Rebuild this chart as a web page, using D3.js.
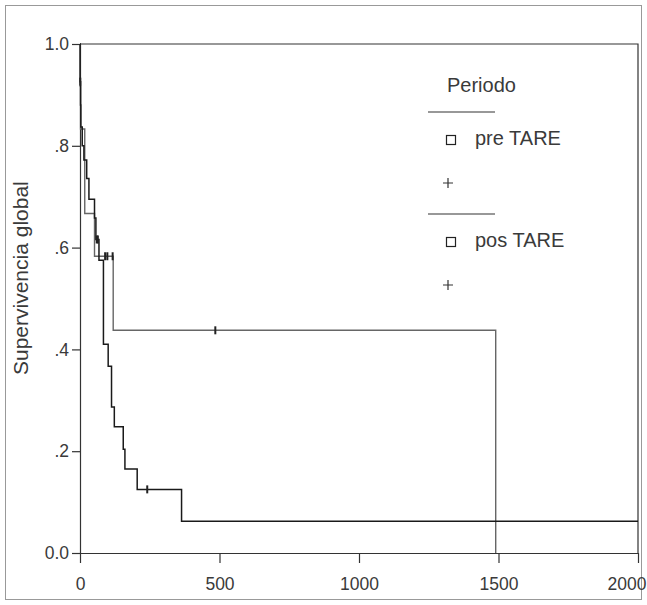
<!DOCTYPE html>
<html><head><meta charset="utf-8">
<script src="https://cdn.jsdelivr.net/npm/d3@7"></script>
<style>
body{margin:0;background:#fff}
svg{display:block}
text{font-family:"Liberation Sans",Arial,sans-serif;fill:#3a3a3a}
</style>
</head><body>
<svg id="c" width="647" height="605"></svg>
<script>
// ---- data ----
const preTimes = [0, 0.5, 2, 3, 8, 14, 24, 32, 52, 57, 68, 84, 101, 113, 123, 155, 161, 205, 364, 2000];
const preSurv  = [1.0, 0.926, 0.880, 0.837, 0.80, 0.772, 0.736, 0.695, 0.658, 0.616, 0.575, 0.41, 0.367, 0.287, 0.248, 0.204, 0.165, 0.125, 0.0625, 0.0625];
const preCensT = [1, 60, 64, 241];
const preCensS = [0.926, 0.616, 0.616, 0.125];
const posTimes = [0, 1, 2, 17, 52, 119, 1490];
const posSurv  = [1.0, 0.917, 0.833, 0.667, 0.583, 0.4375, 0];
const posCensT = [90, 98, 117, 485];
const posCensS = [0.583, 0.583, 0.583, 0.4375];
const xTicks = [0, 500, 1000, 1500, 2000];
const yTicks = [0, 0.2, 0.4, 0.6, 0.8, 1.0];
const yTickLabels = ["0.0", ".2", ".4", ".6", ".8", "1.0"];
const groups = ["pre TARE", "pos TARE"];
const legendTitle = "Periodo";
const yTitle = "Supervivencia global";

// ---- layout ----
const svg = d3.select("#c");
const L = 80, R = 638, T = 44, B = 553;
const x = d3.scaleLinear().domain([0, 2000]).range([L, R]);
const y = d3.scaleLinear().domain([0, 1]).range([B, T]);

// outer border
svg.append("rect").attr("x", 5.5).attr("y", 5.5).attr("width", 636).attr("height", 594)
  .attr("fill", "none").attr("stroke", "#999").attr("stroke-width", 1);

// frame top/right
svg.append("path").attr("d", `M${L},${T}H${R}V${B}`).attr("fill", "none")
  .attr("stroke", "#333").attr("stroke-width", 1.2);

// axes
const yAxis = d3.axisLeft(y).tickValues(yTicks).tickSize(8).tickSizeOuter(0).tickPadding(3)
  .tickFormat((d, i) => yTickLabels[i]);
const gy = svg.append("g").attr("transform", `translate(${L},0)`).call(yAxis);
const xAxis = d3.axisBottom(x).tickValues(xTicks).tickSize(10).tickSizeOuter(0).tickPadding(15)
  .tickFormat(d3.format("d"));
const gx = svg.append("g").attr("transform", `translate(0,${B})`).call(xAxis);
[gx, gy].forEach(g => {
  g.select(".domain").attr("stroke", "#333").attr("stroke-width", 1.2);
  g.selectAll(".tick line").attr("stroke", "#333").attr("stroke-width", 1.2);
  g.selectAll(".tick text").style("font-size", "17.5px").attr("fill", "#3a3a3a");
});
gx.selectAll(".tick text").filter(d => d === 2000).attr("text-anchor", "end").attr("dx", 8);

// y title
svg.append("text").attr("transform", `translate(28,${y(0.54)}) rotate(-90)`)
  .attr("text-anchor", "middle").style("font-size", "21px").text(yTitle);

// curves
const line = d3.line().x(d => x(d[0])).y(d => y(d[1])).curve(d3.curveStepAfter);
const series = [
  {t: preTimes, s: preSurv, ct: preCensT, cs: preCensS, color: "#1a1a1a", w: 1.5},
  {t: posTimes, s: posSurv, ct: posCensT, cs: posCensS, color: "#666", w: 1.4}
];
series.slice().reverse().forEach(se => {
  const pts = se.t.map((t, i) => [t, se.s[i]]);
  svg.append("path").attr("d", line(pts)).attr("fill", "none")
    .attr("stroke", se.color).attr("stroke-width", se.w);
  se.ct.forEach((t, i) => {
    svg.append("line").attr("x1", x(t)).attr("x2", x(t))
      .attr("y1", y(se.cs[i]) - 4).attr("y2", y(se.cs[i]) + 4)
      .attr("stroke", "#222").attr("stroke-width", 2);
  });
});

// legend
const lg = svg.append("g");
lg.append("text").attr("x", 447).attr("y", 92).style("font-size", "20px").text(legendTitle);
groups.forEach((g, i) => {
  const oy = i * 102;
  lg.append("line").attr("x1", 428).attr("x2", 495).attr("y1", 112 + oy).attr("y2", 112 + oy)
    .attr("stroke", "#333").attr("stroke-width", 1.2);
  lg.append("rect").attr("x", 446.5).attr("y", 135.5 + oy).attr("width", 9).attr("height", 9)
    .attr("fill", "none").attr("stroke", "#222").attr("stroke-width", 1.2);
  lg.append("text").attr("x", 475).attr("y", 145 + oy).style("font-size", "20px").text(g);
  lg.append("path").attr("d", `M443,${183 + oy}h10M448,${178 + oy}v10`)
    .attr("stroke", "#333").attr("stroke-width", 1.2);
});
</script>
</body></html>
